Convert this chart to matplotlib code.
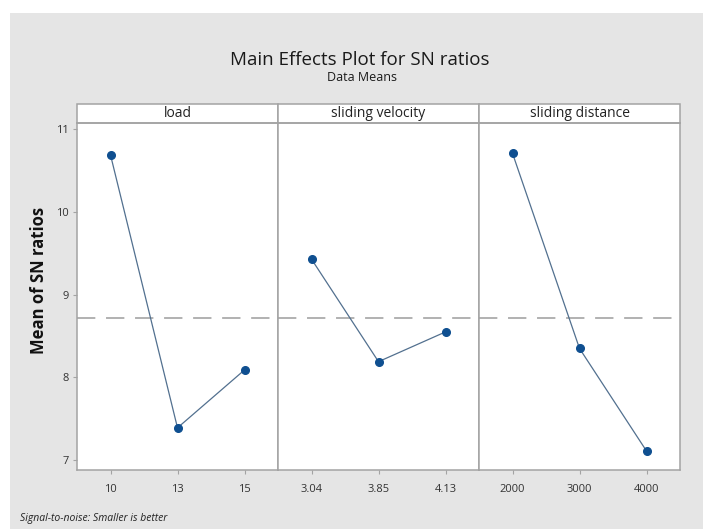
import matplotlib
matplotlib.use("Agg")
import matplotlib.pyplot as plt
from matplotlib.patches import Rectangle

# datos (Minitab, efectos principales)
factores = ["load", "sliding velocity", "sliding distance"]
niveles_load = ["10", "13", "15"]
sn_load = [10.69, 7.39, 8.09]
niveles_velocidad = ["3.04", "3.85", "4.13"]
sn_velocidad = [9.43, 8.19, 8.55]
niveles_distancia = ["2000", "3000", "4000"]
sn_distancia = [10.71, 8.35, 7.11]
media_global = 8.72
yticks = [7, 8, 9, 10, 11]

niveles = [niveles_load, niveles_velocidad, niveles_distancia]
valores = [sn_load, sn_velocidad, sn_distancia]

plt.rcParams["font.family"] = ["Open Sans", "DejaVu Sans"]

fondo = "#e5e5e5"
gris = "#a3a3a3"
azul = "#0f4f90"

fig = plt.figure(figsize=(7.03, 5.29), dpi=100)
fig.patch.set_facecolor("white")
# panel gris de fondo
fig.patches.append(Rectangle((10 / 703, 0), 1, 1 - 13 / 529,
                             transform=fig.transFigure, facecolor=fondo,
                             edgecolor="none", zorder=-10))

izq, der = 77 / 703, 680 / 703
abajo, arriba = 1 - 470 / 529, 1 - 122.7 / 529
ancho = (der - izq) / 3

ejes = []
for i in range(3):
    ax = fig.add_axes([izq + i * ancho, abajo, ancho, arriba - abajo],
                      sharey=ejes[0] if ejes else None)
    ejes.append(ax)

alto_tira = 18.7 / 347.3

for i, ax in enumerate(ejes):
    x = [1, 2, 3]
    ax.plot(x, valores[i], color="#52708f", linewidth=0.9, zorder=2)
    ax.plot(x, valores[i], "o", color=azul, markersize=5.5, zorder=3)
    ax.axhline(media_global, color="#9c9c9c", linewidth=1.1,
               dashes=(12, 7), zorder=1)
    ax.set_xlim(0.5, 3.5)
    ax.set_ylim(6.88, 11.08)
    ax.set_xticks(x)
    ax.set_xticklabels(niveles[i], fontsize=8, color="#333333")
    ax.set_facecolor("white")
    for s in ax.spines.values():
        s.set_color(gris)
        s.set_linewidth(1.1)
    ax.tick_params(axis="x", length=3, color=gris, pad=7)
    if i == 0:
        ax.set_yticks(yticks)
        ax.tick_params(axis="y", length=3, color=gris, labelsize=8,
                       labelcolor="#333333", pad=3)
    else:
        ax.tick_params(axis="y", left=False, labelleft=False)

    # tira con el nombre del factor
    ax.add_patch(Rectangle((0, 1), 1, alto_tira, transform=ax.transAxes,
                           facecolor="white", edgecolor=gris, linewidth=1.1,
                           clip_on=False))
    ax.text(0.5, 1 + alto_tira / 2, factores[i], transform=ax.transAxes,
            ha="center", va="center", fontsize=10, color="#222222")

ejes[0].set_ylabel("Mean of SN ratios", fontsize=12, fontweight="bold",
                   color="#111111", va="center")
ejes[0].yaxis.set_label_coords(-0.19, 0.545)

fig.text(360 / 703, 1 - 60 / 529, "Main Effects Plot for SN ratios",
         ha="center", va="center", fontsize=13.5, color="#1a1a1a")
fig.text(362 / 703, 1 - 77 / 529, "Data Means", ha="center", va="center",
         fontsize=9, color="#1a1a1a")
fig.text(20 / 703, 1 - 518 / 529, "Signal-to-noise: Smaller is better",
         ha="left", va="center", fontsize=7.5, style="italic", color="#222222")

fig.savefig("out.png", dpi=100)
